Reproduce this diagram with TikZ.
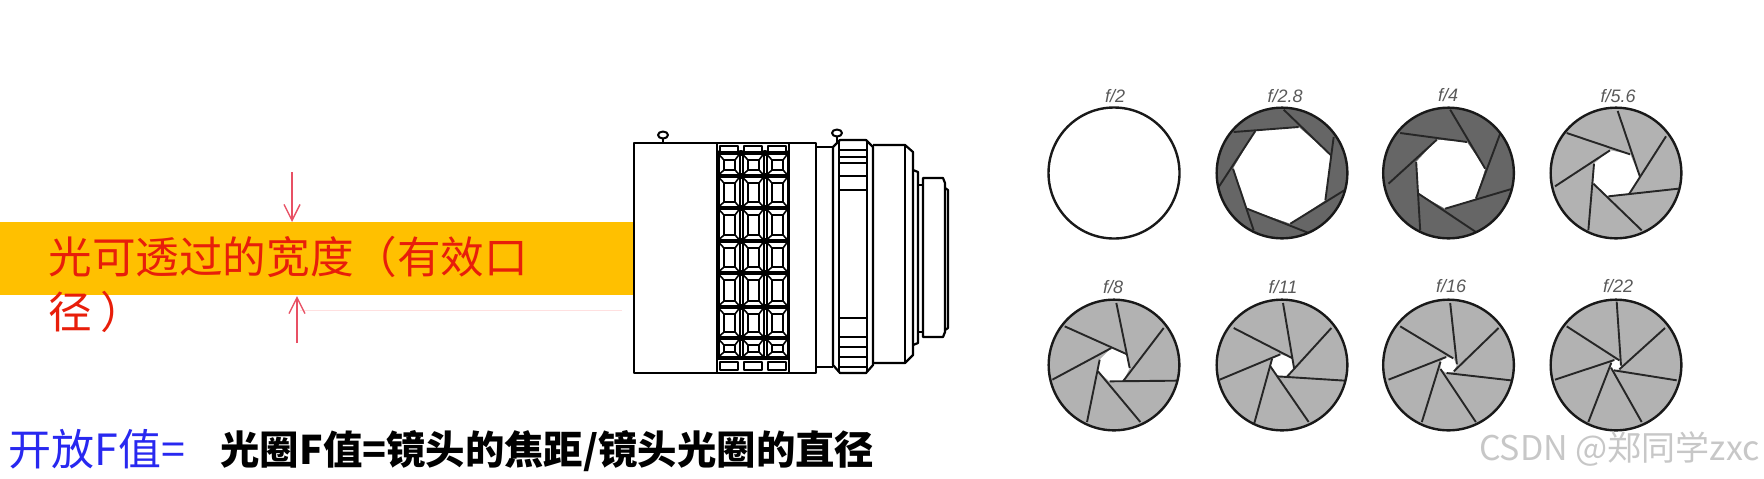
\documentclass[tikz,border=0pt]{standalone}
\usepackage{fontspec}
\usepackage{xcolor}
\usetikzlibrary{arrows.meta}
\newfontfamily\cjk{Noto Sans CJK SC}
\newfontfamily\labelfont{Liberation Sans}
\definecolor{bandorange}{RGB}{255,192,0}
\definecolor{markred}{RGB}{232,80,100}
\definecolor{textred}{RGB}{232,30,10}
\definecolor{textblue}{RGB}{40,40,240}
\definecolor{bladedark}{RGB}{102,102,102}
\definecolor{bladelight}{RGB}{178,178,178}
\tikzset{
    lensline/.style={black,line width=1.1pt,line join=round},
    bladeline/.style={black!85,line width=0.95pt},
    rimline/.style={black!90,line width=1.2pt},
    marker/.style={markred,line width=0.7pt,-{Straight Barb[length=8pt,width=8pt]}},
    stoplabel/.style={inner sep=0pt,text=black!65,font=\labelfont\itshape\fontsize{9}{10}\selectfont}
}
% #1,#2 centre, #3 fill, #4 opening, #5 blades
\newcommand{\iris}[5]{
    \begin{scope}[shift={(#1,#2)},scale=1/3]
        \fill[#3] (0,0) circle (196);
        \fill[white] plot coordinates {#4} -- cycle;
        \foreach \rx/\ry/\ex/\ey in {#5} {
            \draw[bladeline] (\rx,\ry) -- (\ex,\ey);
        }
        \draw[rimline] (0,0) circle (196);
    \end{scope}
}

\begin{document}
\begin{tikzpicture}[x=0.5pt,y=-0.5pt]
    \useasboundingbox (0,0) rectangle (1764,478);

    % light band
    \fill[bandorange] (0,222) rectangle (634,295);
    \draw[red!12,line width=0.4pt] (300,310) -- (622,310);
    \node[anchor=north west,inner sep=0pt,align=left,text=textred,
        font=\cjk\fontsize{21.8}{27.5}\selectfont] (widthtext) at (48,236)
        {光可透过的宽度（有效口\\径\hspace{0.2em}）};

    \coordinate (topfrom) at (292,172);
    \coordinate (topto) at (292,222);
    \coordinate (botfrom) at (297,343);
    \coordinate (botto) at (297,296);
    \draw[marker] (topfrom) -- (topto);
    \draw[marker] (botfrom) -- (botto);

    % lens body
    \draw[lensline] (634,143) rectangle (816,373);
    \begin{scope}
        \clip (717,143) rectangle (789,373);
        \foreach \x in {717,741,765} {
            \foreach \y/\ynext in {153/176,176/208,208/241,241/273,273/307,307/338,338/358} {
                \draw[lensline,line width=1pt] (\x+1.5,\y+1) rectangle (\x+22.5,\ynext-1);
                \draw[lensline,line width=0.8pt] (\x+7,\y+7) rectangle (\x+18,\ynext-6);
                \draw[lensline,line width=0.8pt] (\x+1.5,\y+1) -- (\x+7,\y+7)
                    (\x+22.5,\y+1) -- (\x+18,\y+7)
                    (\x+1.5,\ynext-1) -- (\x+7,\ynext-6)
                    (\x+22.5,\ynext-1) -- (\x+18,\ynext-6);
                \fill[black] (\x,\y) circle (3);
                \fill[black] (\x+24,\y) circle (3);
            }
            \draw[lensline,line width=0.9pt] (\x+3,146) rectangle (\x+21,152);
            \draw[lensline,line width=0.9pt] (\x+3,362) rectangle (\x+21,370);
        }
    \end{scope}
    \draw[lensline,line width=1.6pt] (717,153) -- (789,153);
    \draw[lensline,line width=2pt] (717,358) -- (789,358);
    \draw[lensline] (717,143) -- (717,373) (789,143) -- (789,373);

    % rings towards the mount
    \draw[lensline] (816,147) -- (833,147) (816,367) -- (833,367);
    \draw[lensline] (833,147) -- (840,140) -- (866,140) -- (873,147) -- (873,365)
        -- (866,373) -- (840,373) -- (833,365) -- cycle;
    \draw[lensline] (839,142) -- (839,371) (867,142) -- (867,371);
    \foreach \y in {150,157,163,176,190,318,337,347,357,367} {
        \draw[lensline,line width=0.8pt] (839,\y) -- (867,\y);
    }
    \draw[lensline] (873,145) -- (905,145) -- (913,152) -- (913,355) -- (905,363) -- (873,363);
    \draw[lensline] (905,145) -- (905,363);
    \draw[lensline] (913,170) -- (918,172) -- (918,343) -- (913,345);
    \draw[lensline] (918,185) -- (923,185) (918,332) -- (923,332);
    \draw[lensline] (923,178) -- (943,178) -- (945,183) -- (945,332) -- (943,337) -- (923,337) -- cycle;
    \draw[lensline] (945,188) -- (948,190) -- (948,328) -- (945,330);

    % screws
    \draw[lensline] (663,139) -- (663,143) (837,137) -- (837,143);
    \draw[lensline,fill=white,line width=1pt] (663,135) ellipse (5 and 3.5);
    \draw[lensline,fill=white,line width=1pt] (837,133) ellipse (5 and 3.5);

    % stops
    \draw[rimline] (1114,173) circle (65.5);

    \iris{1282}{173}{bladedark}
        {(-80,-126) (50,-138) (147,-53) (130,82) (25,152) (-105,107) (-147,-13)}
        {-145/-123/50/-138, 5/-190/147/-53, 155/-108/130/82, 190/50/25/152,
         80/180/-105/107, -85/172/-147/-13, -190/42/-80/-126}
    \iris{1448.5}{173}{bladedark}
        {(-35,-100) (55,-93) (110,-13) (82,77) (-10,107) (-90,62) (-97,-33)}
        {-145/-120/55/-93, 5/-190/110/-13, 155/-118/82/77, 192/47/-10/107,
         82/177/-90/62, -85/172/-97/-33, -180/32/-35/-100}
    \iris{1616}{173}{bladelight}
        {(-18,-68) (42,-56) (72,12) (40,62) (-23,70) (-68,32) (-66,-28)}
        {-148/-120/42/-56, 5/-186/72/12, 150/-110/40/62, 187/47/-23/70,
         77/172/-68/32, -83/172/-66/-28, -183/40/-18/-68}
    \iris{1114}{365}{bladelight}
        {(-8,-51) (37,-33) (47,9) (27,49) (-13,49) (-48,19) (-43,-16)}
        {-148/-116/37/-33, 7/-186/47/9, 149/-111/27/49, 189/47/-13/49,
         79/171/-48/19, -81/171/-43/-16, -185/44/-8/-51}
    \iris{1282}{365}{bladelight}
        {(-5,-32) (32,-20) (36,9) (15,35) (-15,34) (-35,4) (-30,-18)}
        {-145/-111/32/-20, 3/-186/36/9, 148/-111/15/35, 190/47/-15/34,
         80/171/-35/4, -83/174/-30/-18, -187/44/-5/-32}
    \iris{1448.5}{365}{bladelight}
        {(-7,-24) (14,-20) (25,-2) (16,19) (-6,24) (-24,12) (-24,-10)}
        {-145/-116/14/-20, 5/-186/25/-2, 150/-111/16/19, 187/46/-6/24,
         82/171/-24/12, -80/171/-24/-10, -180/44/-7/-24}
    \iris{1616}{365}{bladelight}
        {(-5,-15) (10,-14) (15,2) (10,13) (-6,16) (-15,8) (-14,-7)}
        {-148/-116/10/-14, 2/-190/15/2, 147/-111/10/13, 182/46/-6/16,
         77/171/-15/8, -83/171/-14/-7, -183/44/-5/-15}

    \foreach \x/\y/\stopname/\stoptext in {
        1115/96/stoptwo/f\slash 2, 1285/96/stopthree/f\slash 2.8,
        1448/95/stopfour/f\slash 4, 1618/96/stopfive/f\slash 5.6,
        1113/287/stopeight/f\slash 8, 1283/287/stopeleven/f\slash 11,
        1451/286/stopsixteen/f\slash 16, 1618/286/stoptwentytwo/f\slash 22} {
        \node[stoplabel] (\stopname) at (\x,\y) {\stoptext};
    }

    % formula line
    \node[anchor=west,inner sep=0pt,text=textblue,
        font=\cjk\fontsize{21.5}{24}\selectfont] (openvalue) at (8,449) {开放F值=};
    \node[anchor=west,inner sep=0pt,text=black,
        font=\cjk\bfseries\fontsize{19.7}{24}\selectfont] (formula) at (220,451)
        {光圈F值=镜头的焦距/镜头光圈的直径};
    \node[anchor=east,inner sep=0pt,text=black!22,
        font=\cjk\fontsize{17}{20}\selectfont] (watermark) at (1760,449) {CSDN @郑同学zxc};
\end{tikzpicture}
\end{document}
